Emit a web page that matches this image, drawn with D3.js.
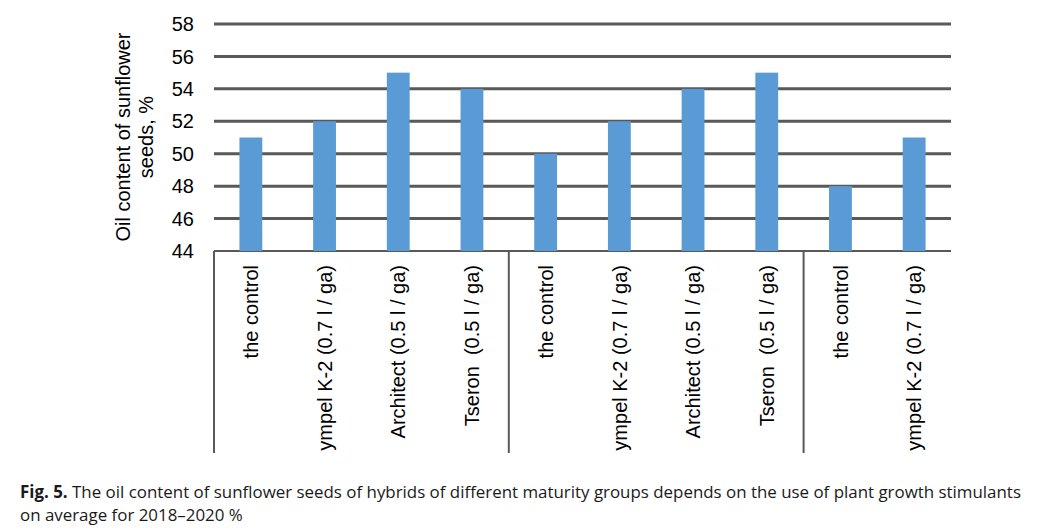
<!DOCTYPE html>
<html>
<head>
<meta charset="utf-8">
<script src="https://cdn.jsdelivr.net/npm/d3@7"></script>
<style>
  body { margin: 0; background: #fff; }
  svg { display: block; }
</style>
</head>
<body>
<script>
// data
var categories = ['the control', 'ympel K-2 (0.7 l / ga)', 'Architect (0.5 l / ga)', 'Tseron  (0.5 l / ga)',
                  'the control', 'ympel K-2 (0.7 l / ga)', 'Architect (0.5 l / ga)', 'Tseron  (0.5 l / ga)',
                  'the control', 'ympel K-2 (0.7 l / ga)'];
var values = [51, 52, 55, 54, 50, 52, 54, 55, 48, 51];
var groupSizes = [4, 4, 2];
var yTicks = [44, 46, 48, 50, 52, 54, 56, 58];

var width = 1048, height = 531;
var plotLeft = 214, plotRight = 951, plotTop = 24, plotBottom = 251, labelBottom = 453;

var svg = d3.select('body').append('svg')
    .attr('width', width)
    .attr('height', height);

var idx = d3.range(values.length);

var cat = d3.scaleBand().domain(idx).range([plotLeft, plotRight]);
var x = d3.scaleBand().domain(idx).range([plotLeft, plotRight])
    .paddingInner(0.69).paddingOuter(0.345);
var y = d3.scaleLinear().domain([44, 58]).range([plotBottom, plotTop]);

// gridlines
svg.append('g').selectAll('line')
    .data(yTicks)
    .enter().append('line')
    .attr('x1', plotLeft).attr('x2', plotRight)
    .attr('y1', function (d) { return y(d); })
    .attr('y2', function (d) { return y(d); })
    .attr('stroke', '#595959')
    .attr('stroke-width', function (d) { return d == 44 ? 2 : 3; });

// y tick labels
svg.append('g').selectAll('text')
    .data(yTicks)
    .enter().append('text')
    .attr('x', 194)
    .attr('y', function (d) { return y(d); })
    .attr('dy', '0.36em')
    .attr('text-anchor', 'end')
    .style('font', '20px "Liberation Sans", Arial, sans-serif')
    .attr('fill', '#000')
    .text(function (d) { return d; });

// y title
var yt = svg.append('text')
    .attr('transform', 'translate(134,137) rotate(-90)')
    .attr('text-anchor', 'middle')
    .style('font', '20px "Liberation Sans", Arial, sans-serif')
    .attr('fill', '#000');
yt.append('tspan').attr('x', 0).attr('dy', '-0.2em').text('Oil content of sunflower');
yt.append('tspan').attr('x', 0).attr('dy', '1.15em').text('seeds, %');

// bars
svg.append('g').selectAll('rect')
    .data(idx)
    .enter().append('rect')
    .attr('x', function (i) { return x(i); })
    .attr('width', x.bandwidth())
    .attr('y', function (i) { return y(values[i]); })
    .attr('height', function (i) { return y(44) - y(values[i]); })
    .attr('fill', '#5B9BD5');

// group separators under the axis
var bounds = [0];
groupSizes.forEach(function (s, k) { if (k < groupSizes.length - 1) bounds.push(bounds[k] + s); });
svg.append('g').selectAll('line')
    .data(bounds)
    .enter().append('line')
    .attr('x1', function (b) { return cat(b); })
    .attr('x2', function (b) { return cat(b); })
    .attr('y1', plotBottom).attr('y2', labelBottom)
    .attr('stroke', '#595959')
    .attr('stroke-width', 2);

// category labels, clipped at bottom like the original
svg.append('clipPath').attr('id', 'lblclip')
    .append('rect').attr('x', plotLeft).attr('y', plotBottom)
    .attr('width', plotRight - plotLeft).attr('height', labelBottom - plotBottom);

svg.append('g').attr('clip-path', 'url(#lblclip)')
    .selectAll('text')
    .data(idx)
    .enter().append('text')
    .attr('transform', function (i) {
        return 'translate(' + (cat(i) + cat.bandwidth() / 2) + ',' + (plotBottom + 14) + ') rotate(-90)';
    })
    .attr('text-anchor', 'end')
    .attr('dy', '0.36em')
    .style('font', '20px "Liberation Sans", Arial, sans-serif')
    .style('white-space', 'pre')
    .attr('fill', '#000')
    .text(function (i) { return categories[i]; });

// caption
var cap = svg.append('text')
    .attr('x', 20).attr('y', 498)
    .style('font', '16.9px "Open Sans", sans-serif')
    .attr('fill', '#1a1a1a');
cap.append('tspan').style('font-weight', 'bold').text('Fig. 5.');
cap.append('tspan').text(' The oil content of sunflower seeds of hybrids of different maturity groups depends on the use of plant growth stimulants');
svg.append('text')
    .attr('x', 20).attr('y', 521)
    .style('font', '16.9px "Open Sans", sans-serif')
    .attr('fill', '#1a1a1a')
    .text('on average for 2018\u20132020 %');
</script>
</body>
</html>
